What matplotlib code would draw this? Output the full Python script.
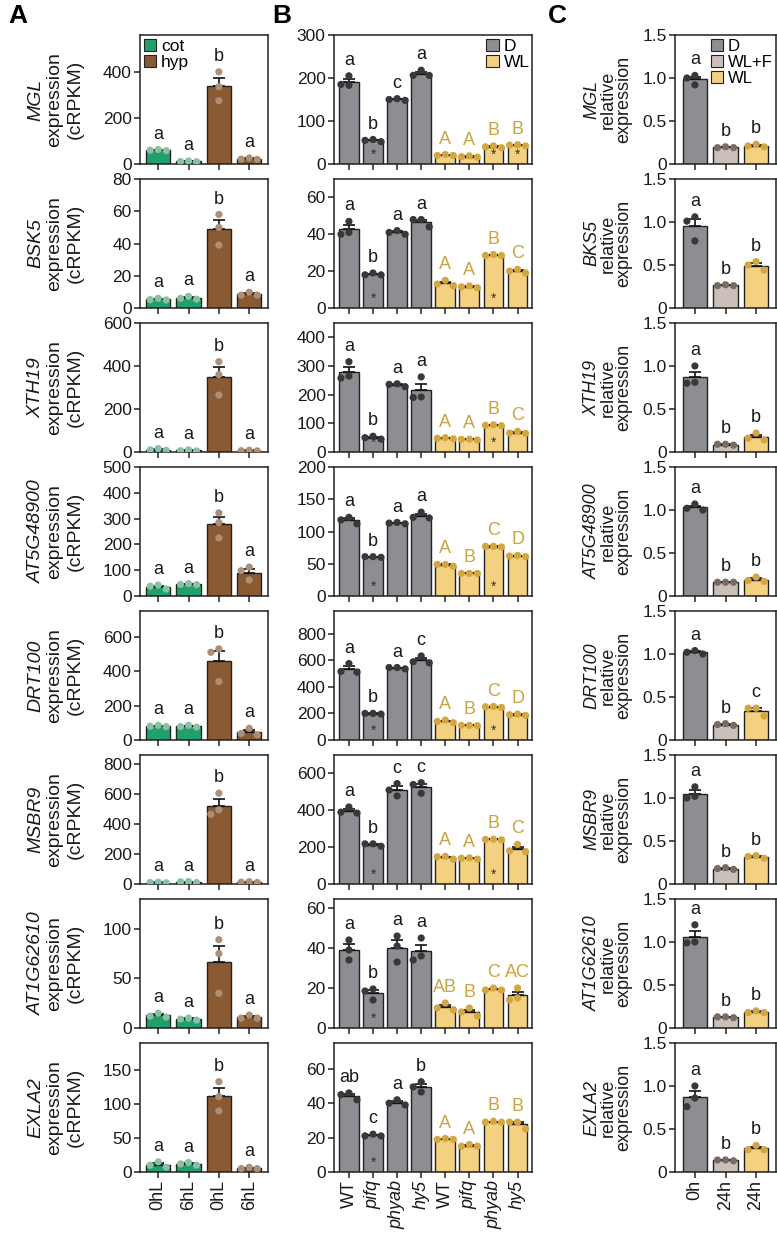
import numpy as np
import matplotlib
matplotlib.use('Agg')
import matplotlib.pyplot as plt
from matplotlib.patches import Patch
from matplotlib.ticker import FixedLocator
import matplotlib.transforms as mtrans

plt.rcParams['font.family'] = ['Liberation Sans', 'DejaVu Sans']

# ==================== data ====================
genes_a = ['MGL', 'BSK5', 'XTH19', 'AT5G48900', 'DRT100', 'MSBR9', 'AT1G62610', 'EXLA2']
genes_c = ['MGL', 'BKS5', 'XTH19', 'AT5G48900', 'DRT100', 'MSBR9', 'AT1G62610', 'EXLA2']

# panel A: cot 0hL, cot 6hL, hyp 0hL, hyp 6hL (3 replicates each)
a_xlabels = ['0hL', '6hL', '0hL', '6hL']
a_vals = [
    [[58, 63, 60], [10, 13, 11], [400, 335, 275], [20, 26, 21]],
    [[5, 6, 5.2], [6, 7.2, 5.5], [58, 50, 39], [8, 9.8, 8]],
    [[10, 16, 8], [5, 10, 6], [420, 360, 265], [5, 8, 6]],
    [[42, 27, 38], [45, 48, 44], [322, 285, 225], [112, 98, 62]],
    [[80, 86, 78], [75, 85, 78], [530, 510, 340], [68, 38, 30]],
    [[8, 12, 10], [10, 15, 17], [605, 495, 465], [12, 15, 10]],
    [[15, 11, 12], [9, 10, 8], [89, 75, 35], [10, 13, 10]],
    [[10, 15, 7], [10, 14, 12], [133, 111, 90], [5, 7, 5]],
]
a_letters = [['a', 'a', 'b', 'a']] * 8
a_ymax = [560, 80, 600, 500, 750, 860, 130, 190]
a_yticks = [[0, 200, 400], [0, 20, 40, 60, 80], [0, 200, 400, 600],
            [0, 100, 200, 300, 400, 500], [0, 200, 400, 600],
            [0, 200, 400, 600, 800], [0, 50, 100], [0, 50, 100, 150]]

# panel B: D (WT, pifq, phyab, hy5) then WL (WT, pifq, phyab, hy5)
b_xlabels = ['WT', 'pifq', 'phyab', 'hy5', 'WT', 'pifq', 'phyab', 'hy5']
b_vals = [
    [[183, 205, 185], [52, 57, 55], [148, 152, 150], [206, 218, 206],
     [20, 22, 20], [16, 19, 17], [38, 42, 40], [42, 45, 44]],
    [[47, 40, 41], [18, 19, 18], [41, 42, 40], [48, 44, 48],
     [15, 12, 13], [12, 11, 11.5], [28.5, 29, 28.5], [20, 21, 19]],
    [[265, 315, 258], [45, 55, 50], [228, 238, 236], [192, 262, 190],
     [46, 50, 48], [42, 45, 44], [92, 95, 93], [65, 72, 66]],
    [[122, 112, 118], [60, 61, 61], [112, 114, 113], [130, 122, 121],
     [46, 49, 49], [35, 35, 35], [76, 77, 77], [61, 63, 62]],
    [[575, 515, 510], [195, 200, 200], [535, 545, 545], [632, 588, 580],
     [130, 150, 140], [108, 110, 110], [245, 252, 250], [185, 195, 190]],
    [[385, 418, 390], [205, 218, 218], [478, 545, 510], [550, 540, 492],
     [135, 150, 148], [135, 142, 140], [240, 242, 243], [175, 215, 180]],
    [[44, 39, 34], [19.5, 18.5, 14], [46, 41, 33], [45, 34, 36],
     [12.5, 10, 9], [10, 8, 6], [19, 20, 19], [20, 14, 15]],
    [[46, 42, 45], [21, 22, 21], [42, 39, 40], [52.5, 49.5, 46.5],
     [19, 19.5, 19], [15, 16, 15], [29, 29.5, 29], [29, 25, 29]],
]
b_letters = [
    ['a', 'b', 'c', 'a', 'A', 'A', 'B', 'B'],
    ['a', 'b', 'a', 'a', 'A', 'A', 'B', 'C'],
    ['a', 'b', 'a', 'a', 'A', 'A', 'B', 'C'],
    ['a', 'b', 'a', 'a', 'A', 'B', 'C', 'D'],
    ['a', 'b', 'a', 'c', 'A', 'B', 'C', 'D'],
    ['a', 'b', 'c', 'c', 'A', 'A', 'B', 'C'],
    ['a', 'b', 'a', 'a', 'AB', 'B', 'C', 'AC'],
    ['ab', 'c', 'a', 'b', 'A', 'A', 'B', 'B'],
]
# bars marked with * (index in row)
b_stars = [[1, 6, 7], [1, 6], [1, 6], [1, 6], [1, 6], [1, 6], [1], [1]]
b_ymax = [300, 70, 450, 200, 970, 700, 64.5, 75]
b_yticks = [[0, 100, 200, 300], [0, 20, 40, 60], [0, 100, 200, 300, 400],
            [0, 50, 100, 150, 200], [0, 200, 400, 600, 800],
            [0, 200, 400, 600], [0, 20, 40, 60], [0, 20, 40, 60]]

# panel C: D 0h, WL+F 24h, WL 24h
c_xlabels = ['0h', '24h', '24h']
c_vals = [
    [[1.03, 0.92, 1.0], [0.19, 0.2, 0.19], [0.2, 0.23, 0.21]],
    [[1.06, 1.01, 0.78], [0.26, 0.27, 0.26], [0.54, 0.5, 0.44]],
    [[0.8, 1.0, 0.81], [0.08, 0.09, 0.09], [0.14, 0.22, 0.16]],
    [[1.0, 1.07, 1.02], [0.16, 0.16, 0.16], [0.17, 0.22, 0.18]],
    [[1.0, 1.04, 1.02], [0.17, 0.19, 0.18], [0.37, 0.28, 0.37]],
    [[1.0, 1.13, 1.02], [0.17, 0.19, 0.18], [0.32, 0.33, 0.3]],
    [[0.99, 1.2, 1.0], [0.12, 0.13, 0.13], [0.18, 0.2, 0.18]],
    [[1.0, 0.86, 0.76], [0.13, 0.14, 0.14], [0.31, 0.26, 0.26]],
]
c_letters = [['a', 'b', 'b']] * 4 + [['a', 'b', 'c']] + [['a', 'b', 'b']] * 3
c_yticks = [0, 0.5, 1.0, 1.5]
c_yticklabels = ['0', '0.5', '1.0', '1.5']

# ==================== styles ====================
GREEN, GREEN_PT = '#22a06c', '#86c2a4'
BROWN, BROWN_PT = '#8a5a33', '#ad8f77'
GREY, GREY_PT = '#8d8e93', '#38383b'
YEL, YEL_PT = '#f4d181', '#d3a642'
TAUPE, TAUPE_PT = '#cbbfba', '#786a64'
GOLD_TXT = '#cba43f'
EDGE = '#222222'
TXT = '#1a1a1a'

W, H = 777, 1239
fig = plt.figure(figsize=(W / 100, H / 100), dpi=100)

ROW_TOP0, ROW_STEP, ROW_H = 35, 144, 129
COLS = {'A': (140, 128, (-0.6, 3.62)),
        'B': (334, 198, (-0.62, 7.6)),
        'C': (675, 101, (-0.65, 2.65))}


def make_ax(col, row):
    x0, w, xl = COLS[col]
    top = ROW_TOP0 + ROW_STEP * row
    ax = fig.add_axes([x0 / W, 1 - (top + ROW_H) / H, w / W, ROW_H / H])
    ax.set_xlim(*xl)
    for s in ax.spines.values():
        s.set_linewidth(1.1)
        s.set_color(EDGE)
    ax.tick_params(direction='out', length=4.5, width=1.1, color=EDGE,
                   labelsize=12.5, pad=1.5, labelcolor=TXT)
    return ax, w / (xl[1] - xl[0])


def swarm(vals, py, px, step=8.0, thr=9.0):
    order = np.argsort(vals)[::-1]
    placed = []
    offs = np.zeros(len(vals))
    for i in order:
        for k in [0, -1, 1, -2, 2]:
            if all(k != pk or abs(vals[i] - pv) * py >= thr for pk, pv in placed):
                break
        placed.append((k, vals[i]))
        offs[i] = k * step / px
    return offs


def draw_bars(ax, px, ymax, vals, fills, pts, letters, let_cols, width=0.8):
    py = ROW_H / ymax
    for i, v in enumerate(vals):
        v = np.asarray(v, float)
        m = v.mean()
        sem = v.std(ddof=1) / np.sqrt(len(v))
        ax.bar(i, m, width=width, color=fills[i], edgecolor=EDGE, linewidth=1.0, zorder=2)
        ax.errorbar(i, m, yerr=[[0], [sem]], fmt='none', ecolor='#111111',
                    elinewidth=1.2, capsize=4.5, capthick=1.2, zorder=3)
        offs = swarm(v, py, px)
        ax.scatter(i + offs, v, s=27, color=pts[i], edgecolors='none', zorder=4)
        top = max(v.max(), m + sem)
        ax.annotate(letters[i], xy=(i, top), xytext=(0, 5), textcoords='offset points',
                    ha='center', va='bottom', fontsize=13, color=let_cols[i])
    ax.set_ylim(0, ymax)
    ax.set_xticks(range(len(vals)))


def ylab(ax, lines, offs_px, fs):
    for (txt, style), off in zip(lines, offs_px):
        ax.annotate(txt, xy=(0, 0.5), xycoords='axes fraction', xytext=(off * 0.72, 0),
                    textcoords='offset points', rotation=90, ha='center', va='center',
                    fontsize=fs, fontstyle=style, color=TXT)


def add_legend(ax, items, x, fs=12.5):
    ax.legend(handles=[Patch(facecolor=c, edgecolor=EDGE, lw=0.8, label=l) for l, c in items],
              loc='upper left', bbox_to_anchor=(x, 0.97), frameon=False, fontsize=fs,
              handlelength=0.7, handleheight=0.7, handletextpad=0.3,
              labelspacing=0.05, borderpad=0, borderaxespad=0)


for r in range(8):
    # ---- A ----
    ax, px = make_ax('A', r)
    draw_bars(ax, px, a_ymax[r], a_vals[r], [GREEN, GREEN, BROWN, BROWN],
              [GREEN_PT, GREEN_PT, BROWN_PT, BROWN_PT], a_letters[r], [TXT] * 4)
    ax.yaxis.set_major_locator(FixedLocator(a_yticks[r]))
    ylab(ax, [(genes_a[r], 'italic'), ('expression', 'normal'), ('(cRPKM)', 'normal')],
         [-104, -85, -65], 14)
    if r == 0:
        add_legend(ax, [('cot', GREEN), ('hyp', BROWN)], 0.03)
    if r == 7:
        ax.set_xticklabels(a_xlabels, rotation=90, fontsize=13)
    else:
        ax.set_xticklabels([])

    # ---- B ----
    ax, px = make_ax('B', r)
    draw_bars(ax, px, b_ymax[r], b_vals[r], [GREY] * 4 + [YEL] * 4,
              [GREY_PT] * 4 + [YEL_PT] * 4, b_letters[r], [TXT] * 4 + [GOLD_TXT] * 4,
              width=0.82)
    ax.yaxis.set_major_locator(FixedLocator(b_yticks[r]))
    tr = mtrans.blended_transform_factory(ax.transData, ax.transAxes)
    for s in b_stars[r]:
        ax.text(s, 0.02, '*', transform=tr, ha='center', va='bottom',
                fontsize=10, color='#333333', zorder=5)
    if r == 0:
        add_legend(ax, [('D', GREY), ('WL', YEL)], 0.77)
    if r == 7:
        ax.set_xticklabels(b_xlabels, rotation=90, fontsize=13)
        for t, lab in zip(ax.get_xticklabels(), b_xlabels):
            if lab != 'WT':
                t.set_fontstyle('italic')
    else:
        ax.set_xticklabels([])

    # ---- C ----
    ax, px = make_ax('C', r)
    draw_bars(ax, px, 1.5, c_vals[r], [GREY, TAUPE, YEL], [GREY_PT, TAUPE_PT, YEL_PT],
              c_letters[r], [TXT] * 3)
    ax.yaxis.set_major_locator(FixedLocator(c_yticks))
    ax.set_yticklabels(c_yticklabels)
    ylab(ax, [(genes_c[r], 'italic'), ('relative', 'normal'), ('expression', 'normal')],
         [-83, -67, -51], 13)
    if r == 0:
        add_legend(ax, [('D', GREY), ('WL+F', TAUPE), ('WL', YEL)], 0.36, fs=12)
    if r == 7:
        ax.set_xticklabels(c_xlabels, rotation=90, fontsize=13)
    else:
        ax.set_xticklabels([])

for lab, x in [('A', 8), ('B', 272), ('C', 548)]:
    fig.text(x / W, 1 - 4 / H, lab, ha='left', va='top', fontsize=19, fontweight='bold')

fig.savefig('out.png', dpi=100)
